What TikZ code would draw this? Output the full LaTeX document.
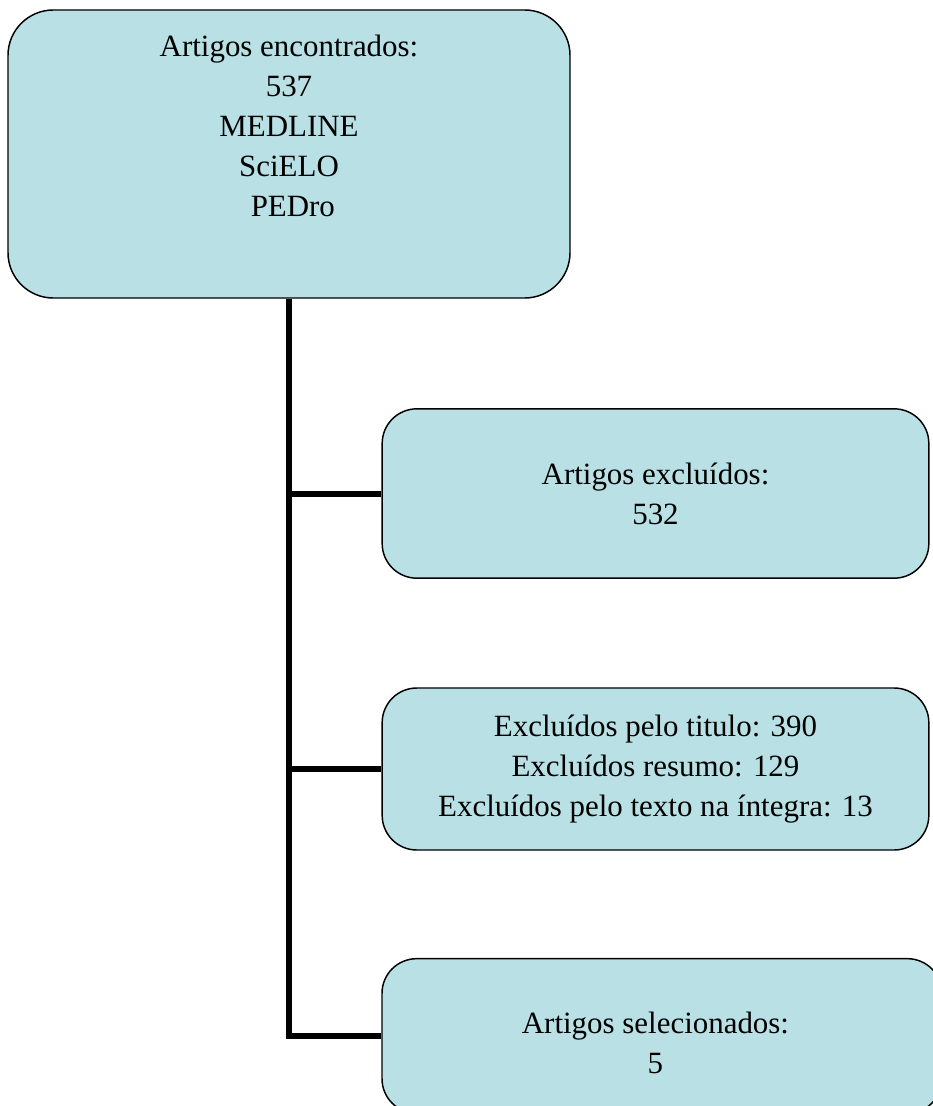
\documentclass[tikz,border=0pt]{standalone}
\usepackage{fontspec}
\setmainfont{Liberation Serif}
\usepackage{tikz}
\usetikzlibrary{positioning}
\definecolor{boxfill}{RGB}{185,224,228}

\begin{document}
\begin{tikzpicture}[x=0.75pt, y=-0.75pt, box/.style={draw, line width=1.1pt, fill=boxfill, rounded corners=26pt, align=center, inner sep=0pt, font=\fontsize{23.2}{30}\selectfont}, txt/.style={align=center, inner sep=0pt, font=\fontsize{23.2}{30}\selectfont}, link/.style={line width=4.5pt}]
\useasboundingbox (0,0) rectangle (932,1106);
\node[box, minimum width=421.5pt, minimum height=216pt, rounded corners=34pt, label={[txt, anchor=north, yshift=-19.5pt]north:Artigos encontrados:\\537\\MEDLINE\\SciELO\\~PEDro}] (enc) at (289,154) {};
\node[box, minimum width=410pt, minimum height=127pt] (exc) at (655.5,493.5) {Artigos excluídos:\\532};
\node[box, minimum width=410pt, minimum height=121.5pt] (crit) at (655.5,769) {Excluídos pelo titulo: 390\\Excluídos resumo: 129\\Excluídos pelo texto na íntegra: 13};
\node[box, minimum width=420pt, minimum height=116pt, label={[txt, xshift=-4.9pt, yshift=-5pt]center:Artigos selecionados:\\5}] (sel) at (662,1036) {};
\draw[link] (enc.south) |- (sel.west);
\draw[link] (exc.west) -- (exc.west -| enc.south);
\draw[link] (crit.west) -- (crit.west -| enc.south);
\end{tikzpicture}
\end{document}
